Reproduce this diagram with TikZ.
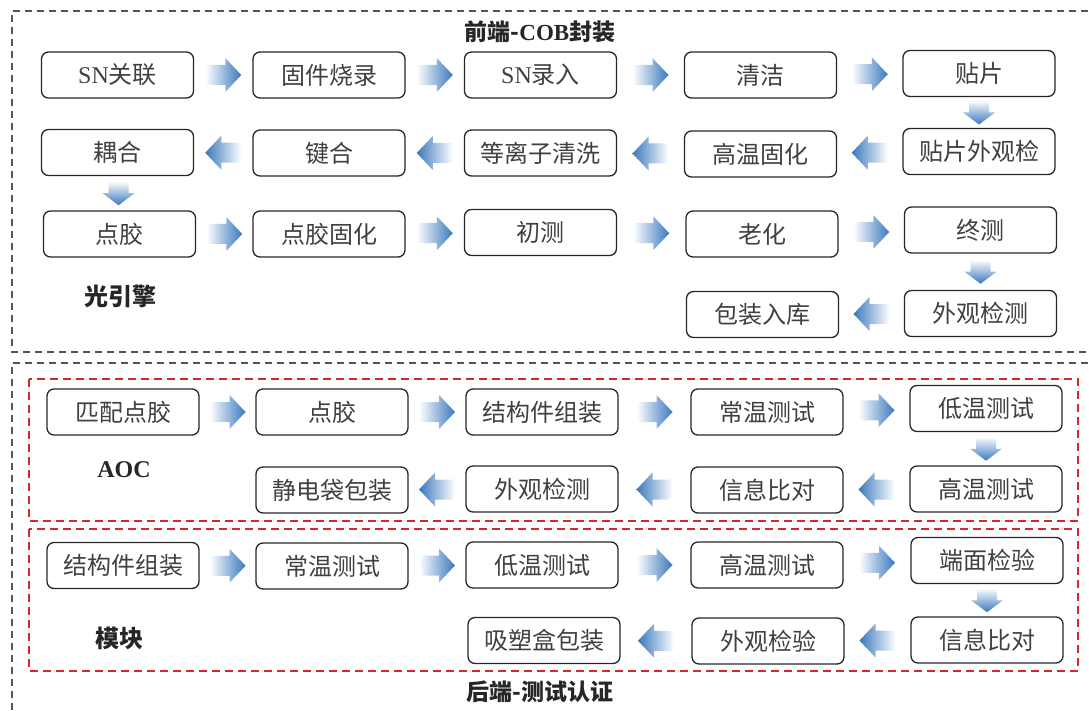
\documentclass[tikz,border=0pt]{standalone}
\usepackage{fontspec}
\setmainfont{Liberation Serif}
\newfontfamily\cjk{Noto Sans CJK SC}
\usetikzlibrary{calc}
\definecolor{ablue}{HTML}{3A78BE}
\definecolor{rdash}{HTML}{D8262B}
\definecolor{gdash}{HTML}{555555}
\tikzset{
  box/.style={draw=black!85, line width=1.3pt, rounded corners=7pt, minimum width=152, minimum height=46, inner sep=0pt, text=black!75, font=\cjk\fontsize{24}{28}\selectfont},
  ttl/.style={font=\cjk\bfseries\fontsize{23}{27}\selectfont, text=black!85},
  grayframe/.style={draw=gdash, line width=1.3pt, dash pattern=on 7pt off 5pt},
  redframe/.style={draw=rdash, line width=2pt, dash pattern=on 8pt off 5pt},
}
\newcommand\arrR[2]{\path ($(#1.east)!0.5!(#2.west)$) coordinate (m);
  \shade[left color=white, right color=ablue] ([shift={(-18,-10)}]m) -- ++(20,0) -- ++(0,-7) -- ++(16,17) -- ++(-16,17) -- ++(0,-7) -- ++(-20,0) -- cycle;}
\newcommand\arrL[2]{\path ($(#1.west)!0.5!(#2.east)$) coordinate (m);
  \shade[right color=white, left color=ablue] ([shift={(18,-10)}]m) -- ++(-20,0) -- ++(0,-7) -- ++(-16,17) -- ++(16,17) -- ++(0,-7) -- ++(20,0) -- cycle;}
\newcommand\arrD[2]{\path ($(#1.south)!0.5!(#2.north)$) coordinate (m);
  \shade[top color=white, bottom color=ablue] ([shift={(-10,-12)}]m) -- ++(0,12) -- ++(-6,0) -- ++(16,12) -- ++(16,-12) -- ++(-6,0) -- ++(0,-12) -- cycle;}
\begin{document}
\begin{tikzpicture}[x=1pt, y=-1pt]
\useasboundingbox (0,0) rectangle (1089,711);
\clip (0,0) rectangle (1089,711);
% frames
\draw[grayframe] (1100,11) -- (12,11) -- (12,352) -- (1100,352);
\draw[grayframe] (1100,363) -- (12,363) -- (12,720);
\draw[redframe] (29,379) rectangle (1078,521);
\draw[redframe] (29,529) rectangle (1078,671);
% titles
\node[ttl] (t1) at (540,32) {前端-{\rmfamily\bfseries COB}封装};
\node[ttl] (t2) at (540,692) {后端-测试认证};
\node[ttl, font=\cjk\bfseries\fontsize{24}{28}\selectfont] (lg) at (120,296) {光引擎};
\node[ttl, font=\rmfamily\bfseries\fontsize{24}{28}\selectfont] (la) at (124,470) {AOC};
\node[ttl, font=\cjk\bfseries\fontsize{24}{28}\selectfont] (lm) at (119,638) {模块};
% top section
\node[box] (a1) at (117.5,75) {{\rmfamily SN}关联};
\node[box] (a2) at (329,75) {固件烧录};
\node[box] (a3) at (540.5,75) {{\rmfamily SN}录入};
\node[box] (a4) at (760.5,75) {清洁};
\node[box] (a5) at (979,73.5) {贴片};
\node[box] (b1) at (117.5,152.5) {耦合};
\node[box] (b2) at (329,153) {键合};
\node[box] (b3) at (540.5,153) {等离子清洗};
\node[box] (b4) at (760.5,154) {高温固化};
\node[box] (b5) at (979,151.5) {贴片外观检};
\node[box] (c1) at (119.5,234) {点胶};
\node[box] (c2) at (329,234) {点胶固化};
\node[box] (c3) at (540.5,232.5) {初测};
\node[box] (c4) at (762,234) {老化};
\node[box] (c5) at (980.5,230) {终测};
\node[box] (d4) at (762.5,314.5) {包装入库};
\node[box] (d5) at (980.5,313.5) {外观检测};
\arrR{a1}{a2}\arrR{a2}{a3}\arrR{a3}{a4}\arrR{a4}{a5}
\arrD{a5}{b5}
\arrL{b5}{b4}\arrL{b4}{b3}\arrL{b3}{b2}\arrL{b2}{b1}
\arrD{b1}{c1}
\arrR{c1}{c2}\arrR{c2}{c3}\arrR{c3}{c4}\arrR{c4}{c5}
\arrD{c5}{d5}
\arrL{d5}{d4}
% AOC
\node[box] (e1) at (123,412) {匹配点胶};
\node[box] (e2) at (332,412) {点胶};
\node[box] (e3) at (542,412) {结构件组装};
\node[box] (e4) at (767,412) {常温测试};
\node[box] (e5) at (986,408.5) {低温测试};
\node[box] (f2) at (332,490) {静电袋包装};
\node[box] (f3) at (542,489) {外观检测};
\node[box] (f4) at (767,490) {信息比对};
\node[box] (f5) at (986,489) {高温测试};
\arrR{e1}{e2}\arrR{e2}{e3}\arrR{e3}{e4}\arrR{e4}{e5}
\arrD{e5}{f5}
\arrL{f5}{f4}\arrL{f4}{f3}\arrL{f3}{f2}
% module
\node[box] (g1) at (123,565.5) {结构件组装};
\node[box] (g2) at (332,566) {常温测试};
\node[box] (g3) at (542,565) {低温测试};
\node[box] (g4) at (767,565) {高温测试};
\node[box] (g5) at (987,560.5) {端面检验};
\node[box] (h3) at (544,640.5) {吸塑盒包装};
\node[box] (h4) at (768,641) {外观检验};
\node[box] (h5) at (987,640) {信息比对};
\arrR{g1}{g2}\arrR{g2}{g3}\arrR{g3}{g4}\arrR{g4}{g5}
\arrD{g5}{h5}
\arrL{h5}{h4}\arrL{h4}{h3}
\end{tikzpicture}
\end{document}
